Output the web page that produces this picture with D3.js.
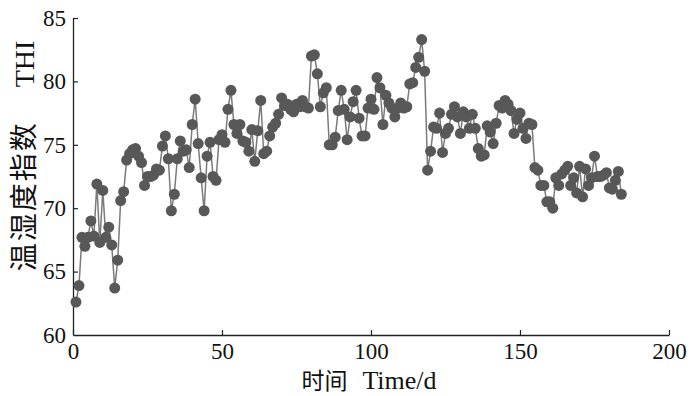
<!DOCTYPE html>
<html>
<head>
<meta charset="utf-8">
<script src="https://cdn.jsdelivr.net/npm/d3@7"></script>
<style>
  body { margin: 0; background: #fff; }
  text { font-family: "Liberation Serif", "Noto Sans CJK SC", serif; }
</style>
</head>
<body>
<svg width="700" height="396"></svg>
<script>
// axis setup
const xTicks = [0, 50, 100, 150, 200];
const yTicks = [60, 65, 70, 75, 80, 85];
const xTitleCn = "时间", xTitleEn = "Time/d";
const yTitleCn = "温湿度指数", yTitleEn = "THI";
const firstDay = 1;

// daily THI
const thiDays1to47 = [62.6, 63.9, 67.7, 67.0, 67.7, 69.0, 67.8, 71.9, 67.3, 71.4,
  67.7, 68.5, 67.1, 63.7, 65.9, 70.6, 71.3, 73.8, 74.3, 74.6,
  74.7, 74.1, 73.6, 71.8, 72.5, 72.5, 72.6, 73.1, 73.0, 74.9,
  75.7, 73.9, 69.8, 71.1, 73.9, 75.3, 74.5, 74.6, 73.2, 76.6,
  78.6, 75.1, 72.4, 69.8, 74.1, 75.2, 72.5];
const thiDays48to79 = [72.2, 75.4, 75.8, 75.2, 77.8, 79.3, 76.6, 75.9, 76.6, 75.3,
  75.2, 74.5, 76.2, 73.7, 76.1, 78.5, 74.3, 74.5, 75.7, 76.4,
  76.7, 77.4, 78.7, 78.1, 78.2, 77.8, 77.6, 78.2, 78.0, 78.5,
  78.0, 77.9];
const thiDays80to98 = [82.0, 82.1, 80.6, 78.0, 79.1, 79.5, 75.0, 75.0, 75.6, 77.7,
  79.3, 77.8, 75.4, 77.2, 78.4, 79.3, 77.1, 75.7, 75.7];
const thiDays99to119 = [77.9, 78.6, 77.8, 80.3, 79.5, 76.6, 78.9, 78.3, 77.9, 77.2,
  77.9, 78.3, 77.9, 78.0, 79.8, 79.9, 81.1, 81.9, 83.3, 80.8, 73.0];
const thiDays120to150 = [74.5, 76.4, 76.3, 77.5, 74.4, 75.9, 76.3, 77.4, 78.0, 77.2,
  75.9, 77.6, 77.2, 76.3, 77.4, 76.3, 74.7, 74.1, 74.2, 76.5,
  76.0, 75.1, 76.7, 78.1, 77.9, 78.5, 78.2, 77.7, 75.9, 77.0, 77.5];
const thiDays151to161 = [76.3, 75.5, 76.7, 76.6, 73.2, 73.0, 71.8, 71.8, 70.5, 70.5, 70.0];
const thiDays162to184 = [72.4, 71.8, 72.7, 73.0, 73.3, 71.8, 72.4, 71.2, 73.3, 70.9,
  73.1, 71.8, 72.4, 74.1, 72.5, 72.5, 72.6, 72.8, 71.6, 71.5,
  72.2, 72.9, 71.1];

const thi = [].concat(thiDays1to47, thiDays48to79, thiDays80to98, thiDays99to119,
  thiDays120to150, thiDays151to161, thiDays162to184);
const data = thi.map((v, i) => ({ day: firstDay + i, thi: v }));

var svg = d3.select("svg");

var x = d3.scaleLinear().domain([0, 200]).range([73, 669]);
var y = d3.scaleLinear().domain([60, 85]).range([335, 18]);

// axes, ticks pointing inward
var xAxis = svg.append("g")
  .attr("transform", "translate(0," + y(60) + ")")
  .call(d3.axisBottom(x).tickValues(xTicks).tickSizeInner(-5).tickSizeOuter(0).tickPadding(8));
var yAxis = svg.append("g")
  .attr("transform", "translate(" + x(0) + ",0)")
  .call(d3.axisLeft(y).tickValues(yTicks).tickSizeInner(-5).tickSizeOuter(0).tickPadding(7));

[xAxis, yAxis].forEach(function(g) {
  g.attr("font-family", null).attr("font-size", null);
  g.select(".domain").attr("stroke", "#222").attr("stroke-width", 1.3);
  g.selectAll(".tick line").attr("stroke", "#222").attr("stroke-width", 1.2);
  g.selectAll(".tick text")
    .attr("fill", "#111")
    .style("font-family", "'Liberation Serif', serif")
    .style("font-size", "23px");
});
yAxis.selectAll(".tick").filter(d => d === 60).select("line").remove();

// line
var line = d3.line()
  .x(d => x(d.day))
  .y(d => y(d.thi));

svg.append("path")
  .datum(data)
  .attr("fill", "none")
  .attr("stroke", "#7a7a7a")
  .attr("stroke-width", 1.5)
  .attr("d", line);

// markers
svg.append("g")
  .selectAll("circle")
  .data(data)
  .enter()
  .append("circle")
  .attr("cx", d => x(d.day))
  .attr("cy", d => y(d.thi))
  .attr("r", 5.5)
  .attr("fill", "#585858");

// titles
var xt = svg.append("text")
  .attr("x", 369)
  .attr("y", 389)
  .attr("text-anchor", "middle")
  .attr("fill", "#111");
xt.append("tspan").style("font-size", "23px").text(xTitleCn);
xt.append("tspan").attr("dx", 15).style("font-size", "26px").text(xTitleEn);

var yt = svg.append("text")
  .attr("transform", "translate(34,156) rotate(-90)")
  .attr("text-anchor", "middle")
  .attr("fill", "#111");
yt.append("tspan").style("font-size", "28px").style("letter-spacing", "2px").text(yTitleCn);
yt.append("tspan").attr("dx", 34).style("font-size", "28px").text(yTitleEn);
</script>
</body>
</html>
